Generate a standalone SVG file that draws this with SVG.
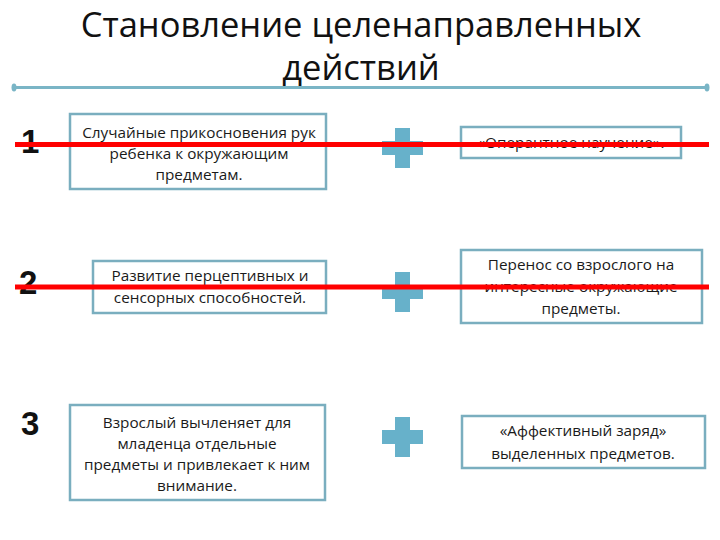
<svg xmlns="http://www.w3.org/2000/svg" width="720" height="540" viewBox="0 0 720 540">
<style>
.title{font-family:"Open Sans","Liberation Sans",sans-serif;font-size:34.5px;fill:#111;text-anchor:middle}
.num{font-family:"Liberation Sans",sans-serif;font-weight:bold;font-size:33px;fill:#111}
.t{font-family:"Open Sans","Liberation Sans",sans-serif;font-size:15.3px;fill:#1a1a1a;text-anchor:middle}
.box{fill:#fff;stroke:#7aaebf;stroke-width:2.5}
.plus{fill:#67b1ca}
.red{stroke:#f00;stroke-width:5}
</style>
<rect width="720" height="540" fill="#fff"/>
<g id="title">
<text class="title" x="361" y="37">Становление целенаправленных</text>
<text class="title" x="361" y="80">действий</text>
<line x1="14" y1="87.5" x2="707" y2="87.5" stroke="#7ab5c6" stroke-width="3"/>
<ellipse cx="14" cy="87.5" rx="2.5" ry="4" fill="#7ab5c6"/>
<ellipse cx="707" cy="87.5" rx="2.5" ry="4" fill="#7ab5c6"/>
</g>
<g id="n1"><text class="num" x="21" y="153">1</text></g>
<g id="n2"><text class="num" x="19" y="294">2</text></g>
<g id="n3"><text class="num" x="21" y="435">3</text></g>
<g id="box1">
<rect class="box" x="70" y="114" width="256" height="75"/>
<text class="t" x="199" y="138">Случайные прикосновения рук</text>
<text class="t" x="199" y="159">ребенка к окружающим</text>
<text class="t" x="199" y="180">предметам.</text>
</g>
<g id="box2">
<rect class="box" x="93" y="261" width="233" height="52"/>
<text class="t" x="210" y="281">Развитие перцептивных и</text>
<text class="t" x="210" y="303">сенсорных способностей.</text>
</g>
<g id="box3">
<rect class="box" x="70" y="405" width="255" height="95"/>
<text class="t" x="197" y="428">Взрослый вычленяет для</text>
<text class="t" x="197" y="449">младенца отдельные</text>
<text class="t" x="197" y="470">предметы и привлекает к ним</text>
<text class="t" x="197" y="491">внимание.</text>
</g>
<g id="plus1"><path class="plus" d="M395 128h15v13h13v14h-13v13h-15v-13h-13v-14h13z"/></g>
<g id="plus2"><path class="plus" d="M395 272h15v13h13v14h-13v13h-15v-13h-13v-14h13z"/></g>
<g id="plus3"><path class="plus" d="M395 417h15v13h13v14h-13v13h-15v-13h-13v-14h13z"/></g>
<g id="rbox1">
<rect class="box" x="461" y="127" width="220" height="31"/>
<text class="t" x="571" y="148">«Оперантное научение».</text>
</g>
<g id="rbox2">
<rect class="box" x="461" y="250" width="241" height="73"/>
<text class="t" x="581" y="270">Перенос со взрослого на</text>
<text class="t" x="581" y="292">интересные окружающие</text>
<text class="t" x="581" y="314">предметы.</text>
</g>
<g id="rbox3">
<rect class="box" x="462" y="416" width="243" height="52"/>
<text class="t" x="583" y="436">«Аффективный заряд»</text>
<text class="t" x="583" y="459">выделенных предметов.</text>
</g>
<g id="connectors">
<line class="red" x1="15" y1="144.5" x2="709" y2="144.5"/>
<line class="red" x1="15" y1="287" x2="709" y2="287"/>
</g>
</svg>
